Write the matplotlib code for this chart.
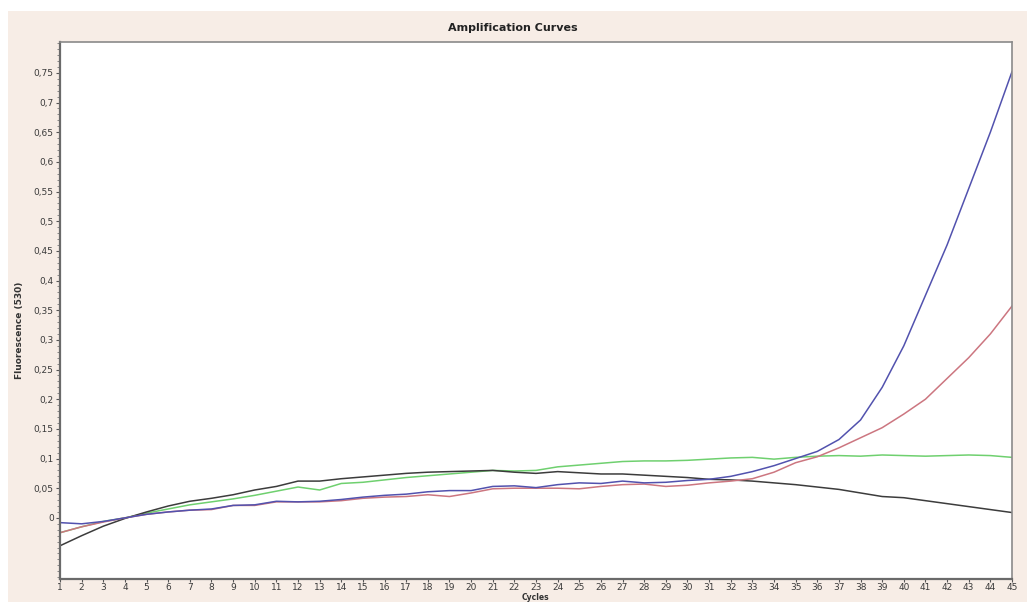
import numpy as np
import matplotlib
matplotlib.use("Agg")
import matplotlib.pyplot as plt
from matplotlib.patches import Rectangle
from matplotlib.ticker import MultipleLocator

cycles = list(range(1, 46))

blue = [-0.008, -0.010, -0.006, 0.000, 0.006, 0.010, 0.013, 0.015, 0.021, 0.022,
        0.028, 0.027, 0.028, 0.031, 0.035, 0.038, 0.040, 0.044, 0.046, 0.046,
        0.053, 0.054, 0.051, 0.056, 0.059, 0.058, 0.062, 0.059, 0.060, 0.063,
        0.065, 0.070, 0.078, 0.088, 0.100, 0.112, 0.132, 0.165, 0.220, 0.290,
        0.375, 0.460, 0.555, 0.650, 0.752]

red = [-0.025, -0.015, -0.007, 0.000, 0.006, 0.010, 0.013, 0.014, 0.021, 0.021,
       0.027, 0.027, 0.027, 0.029, 0.033, 0.035, 0.036, 0.039, 0.036, 0.042,
       0.049, 0.050, 0.050, 0.050, 0.049, 0.053, 0.056, 0.057, 0.053, 0.055,
       0.059, 0.062, 0.066, 0.077, 0.093, 0.103, 0.118, 0.135, 0.152, 0.175,
       0.200, 0.235, 0.270, 0.310, 0.357]

green = [-0.025, -0.015, -0.006, 0.000, 0.008, 0.015, 0.022, 0.027, 0.032, 0.038,
         0.045, 0.052, 0.047, 0.058, 0.060, 0.064, 0.068, 0.071, 0.074, 0.077,
         0.080, 0.079, 0.080, 0.086, 0.089, 0.092, 0.095, 0.096, 0.096, 0.097,
         0.099, 0.101, 0.102, 0.099, 0.102, 0.104, 0.105, 0.104, 0.106, 0.105,
         0.104, 0.105, 0.106, 0.105, 0.102]

black = [-0.047, -0.030, -0.014, -0.001, 0.010, 0.020, 0.028, 0.033, 0.039, 0.047,
         0.053, 0.062, 0.062, 0.066, 0.069, 0.072, 0.075, 0.077, 0.078, 0.079,
         0.080, 0.077, 0.075, 0.078, 0.076, 0.074, 0.074, 0.072, 0.070, 0.068,
         0.065, 0.064, 0.062, 0.059, 0.056, 0.052, 0.048, 0.042, 0.036, 0.034,
         0.029, 0.024, 0.019, 0.014, 0.009]

ytick_vals = [0, 0.05, 0.1, 0.15, 0.2, 0.25, 0.3, 0.35, 0.4, 0.45,
              0.5, 0.55, 0.6, 0.65, 0.7, 0.75]
ytick_text = ["0", "0,05", "0,1", "0,15", "0,2", "0,25", "0,3", "0,35", "0,4", "0,45",
              "0,5", "0,55", "0,6", "0,65", "0,7", "0,75"]

W, H = 1027, 602
fig = plt.figure(figsize=(W / 100, H / 100), dpi=100, facecolor="white")

# beige panel behind the plot
fig.patches.append(Rectangle((8 / W, 0), 1 - 8 / W, 1 - 11 / H,
                             transform=fig.transFigure, facecolor="#f7ede6",
                             edgecolor="none", zorder=-10))

ax = fig.add_axes([60 / W, 23 / H, (1012 - 60) / W, (579 - 42) / H])
ax.set_facecolor("white")

ax.plot(cycles, green, color="#6fd06f", lw=1.1)
ax.plot(cycles, black, color="#3c3c3c", lw=1.1)
ax.plot(cycles, red, color="#cc7680", lw=1.1)
ax.plot(cycles, blue, color="#5252ae", lw=1.1)

ax.set_xlim(1, 45)
ax.set_ylim(-0.103, 0.802)

ax.set_xticks(cycles)
ax.set_xticklabels([str(c) for c in cycles])
ax.set_yticks(ytick_vals)
ax.set_yticklabels(ytick_text)
ax.yaxis.set_minor_locator(MultipleLocator(0.01))

ax.tick_params(axis="both", which="major", labelsize=6.5, colors="#555555",
               labelcolor="#3a3a3a", length=3, width=0.8, pad=1.5)
ax.tick_params(axis="x", which="major", length=2.5, pad=0.5)
ax.tick_params(axis="y", which="minor", length=2, width=0.6, colors="#777777")

for side in ["left", "bottom"]:
    ax.spines[side].set_color("#6a6a6a")
    ax.spines[side].set_linewidth(1.6)
for side in ["top", "right"]:
    ax.spines[side].set_color("#8a8a8a")
    ax.spines[side].set_linewidth(1.2)

fig.text(513 / W, 1 - 28 / H, "Amplification Curves", ha="center", va="center",
         fontsize=8, fontweight="bold", color="#222222")
fig.text(20 / W, 1 - 330 / H, "Fluorescence (530)", ha="center", va="center",
         rotation=90, fontsize=6.5, fontweight="bold", color="#333333")
fig.text(535 / W, 0, "Cycles", ha="center", va="bottom",
         fontsize=5.5, fontweight="bold", color="#333333")

fig.savefig("out.png", dpi=100, facecolor=fig.get_facecolor())
